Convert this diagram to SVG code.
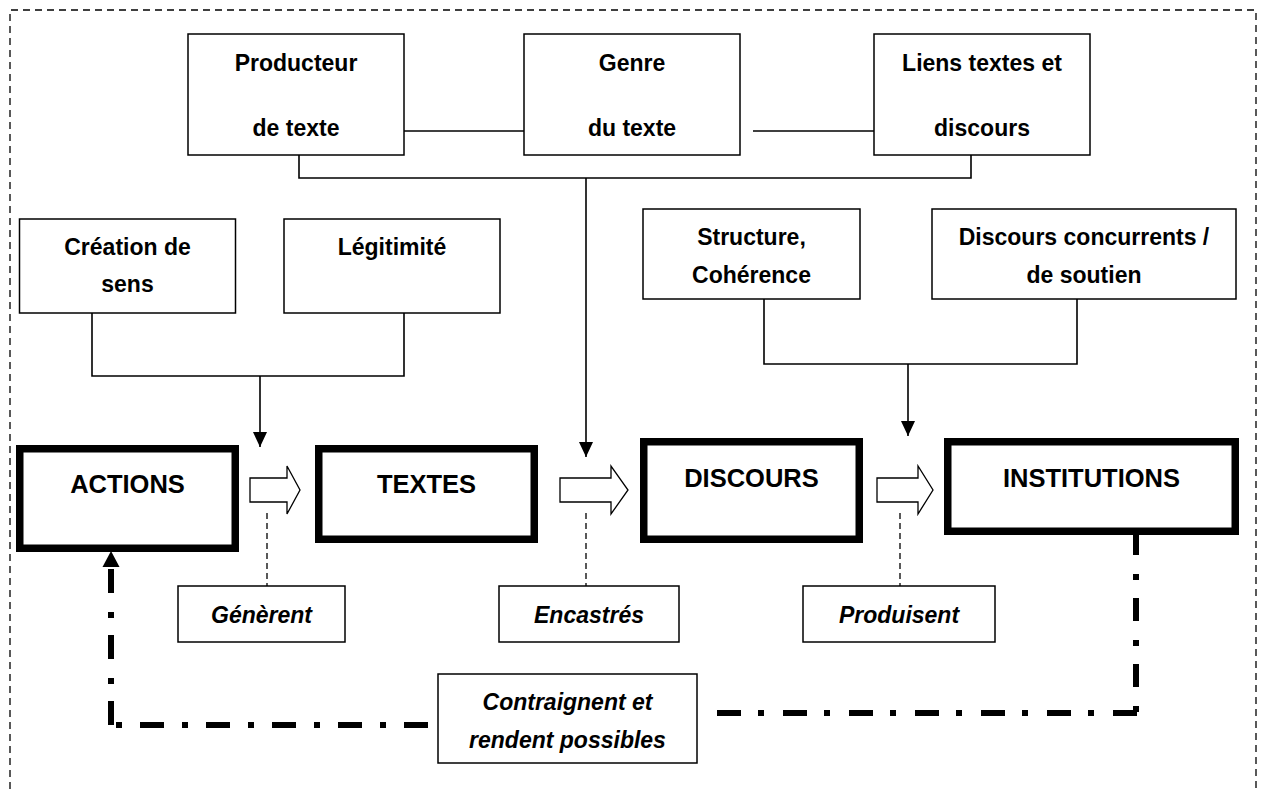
<svg xmlns="http://www.w3.org/2000/svg" width="1263" height="789" viewBox="0 0 1263 789">
<defs>
<style>
.t{font-family:"Liberation Sans",Arial,sans-serif;font-weight:bold;font-size:23px;fill:#000;text-anchor:middle}
.big{font-size:25.5px}
.it{font-style:italic}
.box{fill:#fff;stroke:#000;stroke-width:1.5}
.main{fill:#fff;stroke:#000;stroke-width:7.5}
.ln{fill:none;stroke:#000;stroke-width:1.6}
.dash{fill:none;stroke:#000;stroke-width:1.3;stroke-dasharray:6 4}
.border{fill:none;stroke:#000;stroke-width:1.3;stroke-dasharray:7 5}
.dd{fill:none;stroke:#000;stroke-width:6}
.blk{fill:#fff;stroke:#000;stroke-width:1.3;stroke-linejoin:miter}
</style>
<marker id="ah" viewBox="0 0 15 14" refX="15" refY="7" markerWidth="15" markerHeight="14" markerUnits="userSpaceOnUse" orient="auto">
<path d="M0,0 L15,7 L0,14 z" fill="#000"/>
</marker>
</defs>
<rect width="1263" height="789" fill="#fff"/>
<g id="frame">
<path class="border" d="M10 789 V10 H1256 V789"/>
</g>
<g id="connectors">
<path class="ln" d="M404 131 H524"/>
<path class="ln" d="M753 131 H874"/>
<path class="ln" d="M299 155 V178 H971 V155"/>
<path class="ln" d="M586 178 V457" marker-end="url(#ah)"/>
<path class="ln" d="M92 313 V376 H404 V313"/>
<path class="ln" d="M260 376 V447" marker-end="url(#ah)"/>
<path class="ln" d="M764 299 V364 H1077 V299"/>
<path class="ln" d="M908 364 V436" marker-end="url(#ah)"/>
<path class="dash" d="M267 513 V586"/>
<path class="dash" d="M586 513 V586"/>
<path class="dash" d="M900 513 V586"/>
<polygon class="blk" points="250,478 287,478 287,466 300,490 287,514 287,502 250,502"/>
<polygon class="blk" points="560,478 611,478 611,466 628,490 611,514 611,502 560,502"/>
<polygon class="blk" points="877,478 918,478 918,466 933,490 918,514 918,502 877,502"/>
<path class="dd" d="M1136 532 V716" stroke-dasharray="23 19 6 18"/>
<path class="dd" d="M717 713 H1139" stroke-dasharray="24 17 6 19"/>
<path class="dd" d="M116 725 H430" stroke-dasharray="6 18 24 18"/>
<path class="dd" d="M111 569 V728" stroke-dasharray="24 19 6 17"/>
<polygon points="111,551 102.5,567 119.5,567" fill="#000"/>
</g>
<g id="producteur">
<rect class="box" x="188" y="34" width="216" height="121"/>
<text class="t" x="296" y="71">Producteur</text>
<text class="t" x="296" y="136">de texte</text>
</g>
<g id="genre">
<rect class="box" x="524" y="34" width="216" height="121"/>
<text class="t" x="632" y="71">Genre</text>
<text class="t" x="632" y="136">du texte</text>
</g>
<g id="liens">
<rect class="box" x="874" y="34" width="216" height="121"/>
<text class="t" x="982" y="71">Liens textes et</text>
<text class="t" x="982" y="136">discours</text>
</g>
<g id="creation">
<rect class="box" x="19.5" y="219" width="216" height="94"/>
<text class="t" x="127.5" y="255">Création de</text>
<text class="t" x="127.5" y="292">sens</text>
</g>
<g id="legitimite">
<rect class="box" x="284" y="219" width="216" height="94"/>
<text class="t" x="392" y="255">Légitimité</text>
</g>
<g id="structure">
<rect class="box" x="643" y="209" width="217" height="90"/>
<text class="t" x="751.5" y="245">Structure,</text>
<text class="t" x="751.5" y="283">Cohérence</text>
</g>
<g id="concurrents">
<rect class="box" x="932" y="209" width="304" height="90"/>
<text class="t" x="1084" y="245">Discours concurrents /</text>
<text class="t" x="1084" y="283">de soutien</text>
</g>
<g id="actions">
<rect class="main" x="19.75" y="448.75" width="215.5" height="99.5"/>
<text class="t big" x="127.5" y="493">ACTIONS</text>
</g>
<g id="textes">
<rect class="main" x="318.75" y="448.75" width="215.5" height="90.5"/>
<text class="t big" x="426.5" y="493">TEXTES</text>
</g>
<g id="discours">
<rect class="main" x="643.75" y="441.75" width="215.5" height="97.5"/>
<text class="t big" x="751.5" y="487">DISCOURS</text>
</g>
<g id="institutions">
<rect class="main" x="947.75" y="441.75" width="287.5" height="89.5"/>
<text class="t big" x="1091.5" y="487">INSTITUTIONS</text>
</g>
<g id="generent">
<rect class="box" x="178" y="586" width="167" height="56"/>
<text class="t it" x="261.5" y="623">Génèrent</text>
</g>
<g id="encastres">
<rect class="box" x="499" y="586" width="180" height="56"/>
<text class="t it" x="589" y="623">Encastrés</text>
</g>
<g id="produisent">
<rect class="box" x="803" y="586" width="192" height="56"/>
<text class="t it" x="899" y="623">Produisent</text>
</g>
<g id="contraignent">
<rect class="box" x="438" y="674" width="259" height="89"/>
<text class="t it" x="567.5" y="710">Contraignent et</text>
<text class="t it" x="567.5" y="748">rendent possibles</text>
</g>
</svg>
